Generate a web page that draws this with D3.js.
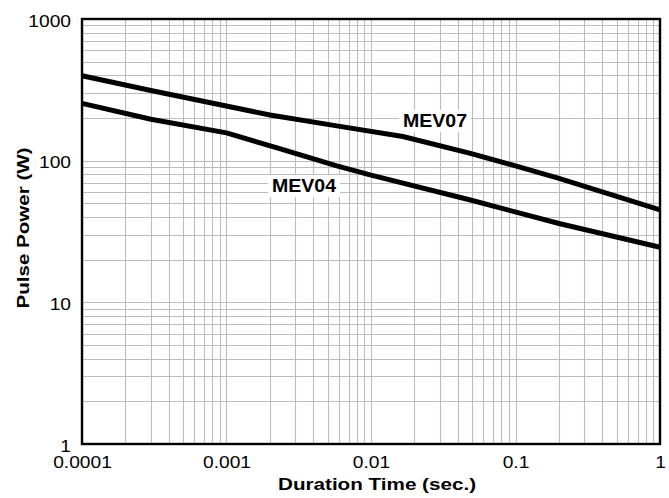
<!DOCTYPE html>
<html>
<head>
<meta charset="utf-8">
<script src="https://cdn.jsdelivr.net/npm/d3@7"></script>
<style>
  body { margin: 0; background: #fff; }
  text { font-family: "Liberation Sans", Arial, Helvetica, sans-serif; fill: #000; }
</style>
</head>
<body>
<div id="chart"></div>
<script>
// pulse power vs duration
var mev07Time  = [0.0001, 0.0003, 0.002, 0.0058, 0.0166, 0.048, 0.1, 0.2, 1];
var mev07Power = [398, 313, 210, 176, 148, 113, 92, 75, 45];

var mev04Time  = [0.0001, 0.0003, 0.001, 0.0023, 0.0058, 0.01, 0.048, 0.2, 1];
var mev04Power = [254, 196, 157, 122, 92, 79, 53, 36, 24.5];

var xTicks = [0.0001, 0.001, 0.01, 0.1, 1];
var xTickLabels = ["0.0001", "0.001", "0.01", "0.1", "1"];
var yTicks = [1, 10, 100, 1000];
var yTickLabels = ["1", "10", "100", "1000"];

var seriesNames = ["MEV07", "MEV04"];

(function() {
var width = 669,
    height = 498;

var plotLeft = 82, plotRight = 660, plotTop = 19, plotBottom = 444;

var svg = d3.select("#chart")
  .append("svg")
  .attr("width", width)
  .attr("height", height);

var x = d3.scaleLog().domain([0.0001, 1]).range([plotLeft, plotRight]);
var y = d3.scaleLog().domain([1, 1000]).range([plotBottom, plotTop]);

// grid, every 1..9 of each decade
var grid = svg.append("g").attr("class", "grid");

grid.selectAll(".vx")
  .data(x.ticks())
  .enter().append("line")
  .attr("x1", function(d) { return Math.round(x(d)) + 0.5; })
  .attr("x2", function(d) { return Math.round(x(d)) + 0.5; })
  .attr("y1", plotTop)
  .attr("y2", plotBottom)
  .attr("stroke", "#bcbcbc")
  .attr("stroke-width", 1.1);

grid.selectAll(".hy")
  .data(y.ticks())
  .enter().append("line")
  .attr("y1", function(d) { return Math.round(y(d)) + 0.5; })
  .attr("y2", function(d) { return Math.round(y(d)) + 0.5; })
  .attr("x1", plotLeft)
  .attr("x2", plotRight)
  .attr("stroke", "#bcbcbc")
  .attr("stroke-width", 1.1);

// curves
var line = d3.line()
  .x(function(d) { return x(d[0]); })
  .y(function(d) { return y(d[1]); });

var series = [
  d3.zip(mev07Time, mev07Power),
  d3.zip(mev04Time, mev04Power)
];

svg.append("g")
  .selectAll("path")
  .data(series)
  .enter().append("path")
  .attr("d", line)
  .attr("fill", "none")
  .attr("stroke", "#000")
  .attr("stroke-width", 5)
  .attr("stroke-linejoin", "round");

// frame
svg.append("rect")
  .attr("x", plotLeft)
  .attr("y", plotTop)
  .attr("width", plotRight - plotLeft)
  .attr("height", plotBottom - plotTop)
  .attr("fill", "none")
  .attr("stroke", "#000")
  .attr("stroke-width", 2.4);

// axes
var xAxis = svg.append("g")
  .attr("transform", "translate(0," + plotBottom + ")")
  .call(d3.axisBottom(x)
    .tickValues(xTicks)
    .tickSize(0)
    .tickPadding(13)
    .tickFormat(function(d, i) { return xTickLabels[i]; }));

var yAxis = svg.append("g")
  .attr("transform", "translate(" + plotLeft + ",0)")
  .call(d3.axisLeft(y)
    .tickValues(yTicks)
    .tickSize(0)
    .tickFormat(function(d, i) { return yTickLabels[i]; }));

svg.selectAll(".domain").remove();

xAxis.selectAll("text")
  .attr("font-size", 16)
  .attr("transform", "scale(1.2,1)");
xAxis.attr("font-family", null);

yAxis.selectAll("text")
  .attr("font-size", 16)
  .attr("x", -11 / 1.2)
  .attr("dy", "0.45em")
  .attr("transform", "scale(1.2,1)");
yAxis.attr("font-family", null);

// axis titles
svg.append("text")
  .attr("x", 377)
  .attr("y", 490)
  .attr("text-anchor", "middle")
  .attr("font-size", 16)
  .attr("font-weight", "bold")
  .attr("textLength", 198)
  .attr("lengthAdjust", "spacingAndGlyphs")
  .text("Duration Time (sec.)");

svg.append("text")
  .attr("transform", "translate(29,228) rotate(-90)")
  .attr("text-anchor", "middle")
  .attr("font-size", 17)
  .attr("font-weight", "bold")
  .attr("textLength", 161)
  .attr("lengthAdjust", "spacingAndGlyphs")
  .text("Pulse Power (W)");

// curve labels with white backing
var labelPos = [[435, 127], [304, 192]];

seriesNames.forEach(function(name, i) {
  var g = svg.append("g");
  var bg = g.append("rect").attr("fill", "#fff");
  var t = g.append("text")
    .attr("x", labelPos[i][0])
    .attr("y", labelPos[i][1])
    .attr("text-anchor", "middle")
    .attr("font-size", 18)
    .attr("font-weight", "bold")
    .attr("textLength", 64)
    .attr("lengthAdjust", "spacingAndGlyphs")
    .text(name);
  var bb = t.node().getBBox();
  bg.attr("x", bb.x - 4)
    .attr("y", bb.y - 1)
    .attr("width", bb.width + 8)
    .attr("height", bb.height + 2);
});
})();
</script>
</body>
</html>
